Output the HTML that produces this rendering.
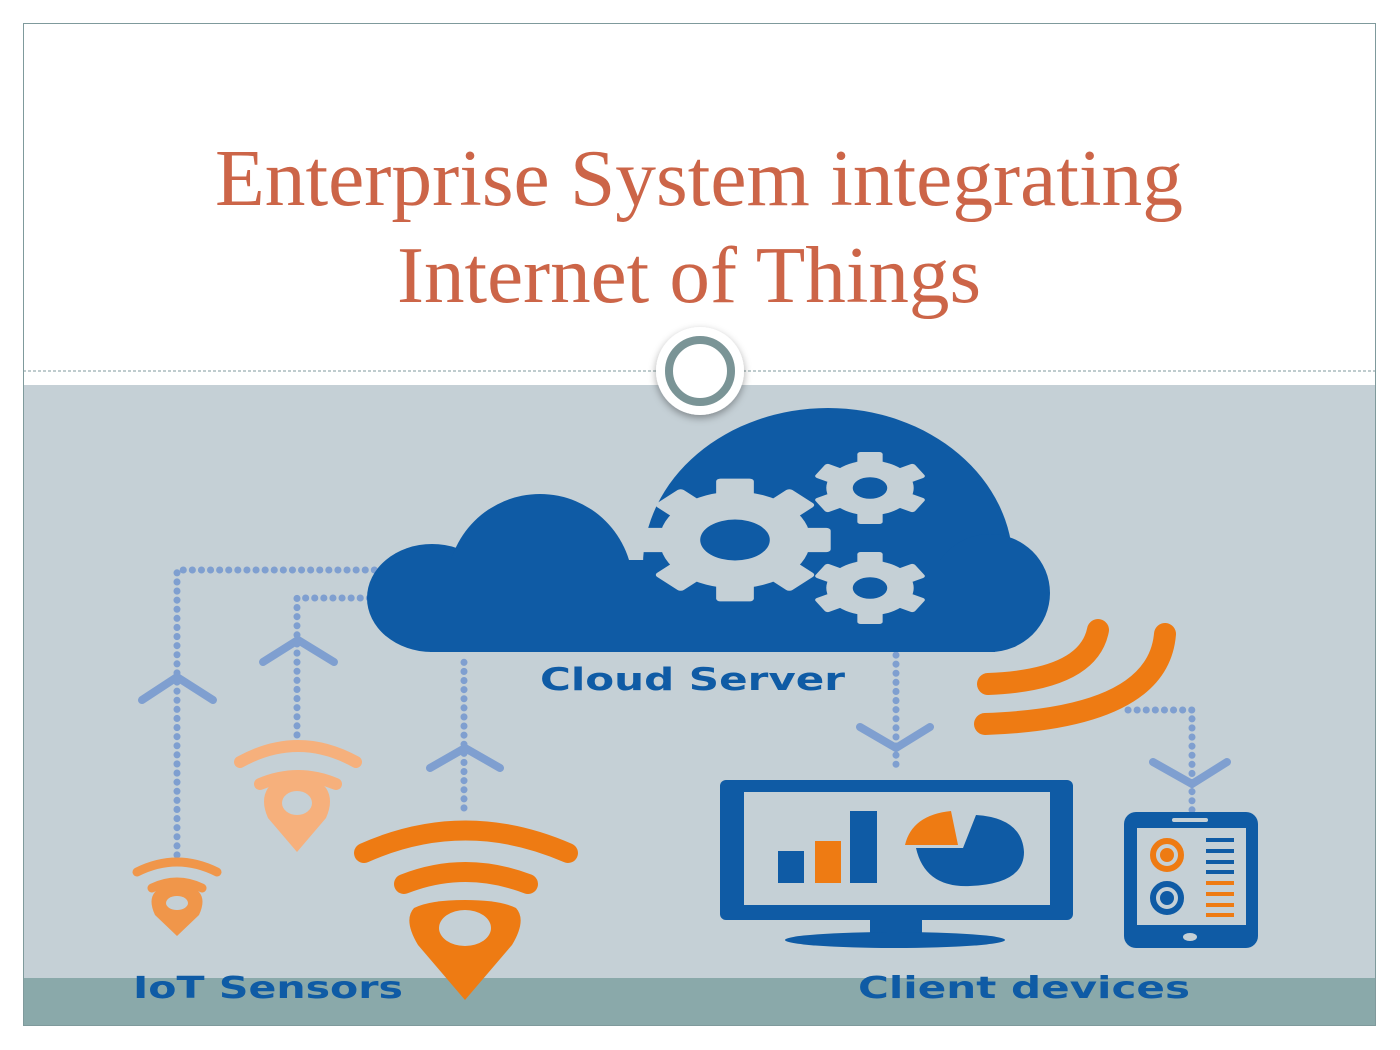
<!DOCTYPE html>
<html><head><meta charset="utf-8"><style>
html,body{margin:0;padding:0;background:#fff;}
svg{display:block;}
</style></head><body>
<svg width="1400" height="1050" viewBox="0 0 1400 1050" xmlns="http://www.w3.org/2000/svg">
<defs>
<filter id="sh" x="-50%" y="-50%" width="200%" height="200%"><feDropShadow dx="0" dy="3" stdDeviation="4" flood-color="#000" flood-opacity="0.35"/></filter>
<clipPath id="cc"><rect x="300" y="380" width="800" height="272"/></clipPath>
<g id="gearB">
  <g fill="#c5d0d6">
    <circle r="52"/>
    <rect x="-13" y="-66" width="26" height="132" rx="3"/>
    <rect x="-13" y="-66" width="26" height="132" rx="3" transform="rotate(45)"/>
    <rect x="-13" y="-66" width="26" height="132" rx="3" transform="rotate(90)"/>
    <rect x="-13" y="-66" width="26" height="132" rx="3" transform="rotate(135)"/>
  </g>
  <ellipse rx="24" ry="22" fill="#0f5ba5"/>
</g>
<g id="gearS">
  <g fill="#c5d0d6">
    <circle r="38"/>
    <rect x="-11" y="-50" width="22" height="100" rx="3"/>
    <rect x="-11" y="-50" width="22" height="100" rx="3" transform="rotate(60)"/>
    <rect x="-11" y="-50" width="22" height="100" rx="3" transform="rotate(120)"/>
  </g>
  <ellipse rx="15" ry="15" fill="#0f5ba5"/>
</g>
</defs>
<rect x="0" y="0" width="1400" height="1050" fill="#fff"/>
<rect x="23" y="385" width="1353" height="594" fill="#c5d0d6"/>
<rect x="23" y="978" width="1353" height="48" fill="#8aa9aa"/>
<rect x="23.5" y="23.5" width="1352" height="1002" fill="none" stroke="#7f9a9c" stroke-width="1"/>
<line x1="23" y1="371" x2="1376" y2="371" stroke="#7f9a9c" stroke-width="1" stroke-dasharray="3,2"/>

<text x="215" y="205" textLength="968" lengthAdjust="spacingAndGlyphs" font-family="Liberation Serif, serif" font-size="80" fill="#cc6548">Enterprise System integrating</text>
<text x="397" y="302" textLength="584" lengthAdjust="spacingAndGlyphs" font-family="Liberation Serif, serif" font-size="80" fill="#cc6548">Internet of Things</text>

<circle cx="700" cy="371" r="44" fill="#fff" filter="url(#sh)"/>
<circle cx="700" cy="371" r="31" fill="#fff" stroke="#7a9496" stroke-width="8"/>

<g stroke="#7f9fd0" stroke-width="7" stroke-linecap="round" stroke-dasharray="0.1,9" fill="none">
  <path d="M177 855 V570 H380"/>
  <path d="M297 735 V598 H380"/>
  <path d="M464 808 V655"/>
  <path d="M896 655 V770"/>
  <path d="M1128 710 H1192 V810"/>
</g>
<g stroke="#7f9fd0" stroke-width="8" stroke-linecap="round" fill="none">
  <path d="M142 700 L177 677 L213 700"/>
  <path d="M263 662 L298 640 L334 662"/>
  <path d="M430 768 L465 748 L500 768"/>
  <path d="M860 727 L896 748 L930 727"/>
  <path d="M1153 762 L1192 784 L1227 762"/>
</g>

<g fill="#0f5ba5" clip-path="url(#cc)">
  <ellipse cx="432" cy="598" rx="65" ry="54"/>
  <circle cx="540" cy="587" r="93"/>
  <ellipse cx="828" cy="565" rx="185" ry="157"/>
  <ellipse cx="990" cy="593" rx="60" ry="59"/>
  <rect x="430" y="560" width="565" height="92"/>
</g>
<use href="#gearB" transform="translate(735,540) scale(1.45,0.93)"/>
<use href="#gearS" transform="translate(870,488) scale(1.15,0.72)"/>
<use href="#gearS" transform="translate(870,588) scale(1.15,0.72)"/>
<text x="540" y="690" textLength="305" lengthAdjust="spacingAndGlyphs" font-family="DejaVu Sans, sans-serif" font-weight="bold" font-size="31" fill="#0f5ba5">Cloud Server</text>

<g stroke="#ee7b13" stroke-width="22" stroke-linecap="round" fill="none">
  <path d="M988 684 Q1088 680 1098 630"/>
  <path d="M985 724 Q1158 718 1165 634"/>
</g>

<g fill="none" stroke-linecap="round">
  <path d="M137 872 Q177 852 217 872" stroke="#f0964a" stroke-width="9"/>
  <path d="M152 888 Q177 876 202 888" stroke="#f0964a" stroke-width="9"/>
  <path d="M240 762 Q298 730 356 762" stroke="#f6b07c" stroke-width="12"/>
  <path d="M260 784 Q298 768 336 784" stroke="#f6b07c" stroke-width="12"/>
  <path d="M364 853 Q465 808 568 853" stroke="#ee7b13" stroke-width="20"/>
  <path d="M404 884 Q465 860 528 884" stroke="#ee7b13" stroke-width="20"/>
</g>
<path d="M177 936 L155 915 Q148 900 155 892 Q163 884 177 884 Q191 884 199 892 Q206 900 199 915 Z" fill="#f0964a"/>
<ellipse cx="177" cy="903" rx="11" ry="7" fill="#c5d0d6"/>
<path d="M297 852 L268 818 Q260 800 268 788 Q278 776 297 776 Q316 776 326 788 Q334 800 326 818 Z" fill="#f6b07c"/>
<ellipse cx="297" cy="803" rx="15" ry="12" fill="#c5d0d6"/>
<path d="M465 1000 L418 945 Q403 920 414 908 Q430 900 465 900 Q500 900 516 908 Q527 920 512 945 Z" fill="#ee7b13"/>
<ellipse cx="465" cy="928" rx="26" ry="18" fill="#c5d0d6"/>

<rect x="720" y="780" width="353" height="140" rx="6" fill="#0f5ba5"/>
<rect x="744" y="792" width="306" height="113" fill="#c5d0d6"/>
<rect x="870" y="918" width="52" height="20" fill="#0f5ba5"/>
<ellipse cx="895" cy="940" rx="110" ry="8" fill="#0f5ba5"/>
<rect x="778" y="851" width="26" height="32" fill="#0f5ba5"/>
<rect x="815" y="841" width="26" height="42" fill="#ee7b13"/>
<rect x="850" y="811" width="27" height="72" fill="#0f5ba5"/>
<path d="M963 848 L916 848 Q925 888 970 886 Q1024 884 1024 852 Q1022 818 976 815 Z" fill="#0f5ba5"/>
<path d="M905 845 L958 845 L951 811 Q912 815 905 845 Z" fill="#ee7b13"/>

<rect x="1124" y="812" width="134" height="136" rx="12" fill="#0f5ba5"/>
<rect x="1137" y="828" width="109" height="97" fill="#c5d0d6"/>
<rect x="1172" y="818" width="36" height="4" rx="2" fill="#c5d0d6"/>
<ellipse cx="1190" cy="937" rx="7" ry="4" fill="#c5d0d6"/>
<circle cx="1167" cy="855" r="14" fill="none" stroke="#ee7b13" stroke-width="6"/>
<circle cx="1167" cy="855" r="7" fill="#ee7b13"/>
<circle cx="1167" cy="898" r="14" fill="none" stroke="#0f5ba5" stroke-width="6"/>
<circle cx="1167" cy="898" r="7" fill="#0f5ba5"/>
<g fill="#0f5ba5"><rect x="1206" y="838" width="28" height="4"/><rect x="1206" y="849" width="28" height="4"/><rect x="1206" y="860" width="28" height="4"/><rect x="1206" y="870" width="28" height="4"/></g>
<g fill="#ee7b13"><rect x="1206" y="881" width="28" height="4"/><rect x="1206" y="892" width="28" height="4"/><rect x="1206" y="903" width="28" height="4"/><rect x="1206" y="913" width="28" height="4"/></g>

<text x="133" y="998" textLength="270" lengthAdjust="spacingAndGlyphs" font-family="DejaVu Sans, sans-serif" font-weight="bold" font-size="30" fill="#0f5ba5">IoT Sensors</text>
<text x="858" y="998" textLength="332" lengthAdjust="spacingAndGlyphs" font-family="DejaVu Sans, sans-serif" font-weight="bold" font-size="30" fill="#0f5ba5">Client devices</text>
</svg>
</body></html>
